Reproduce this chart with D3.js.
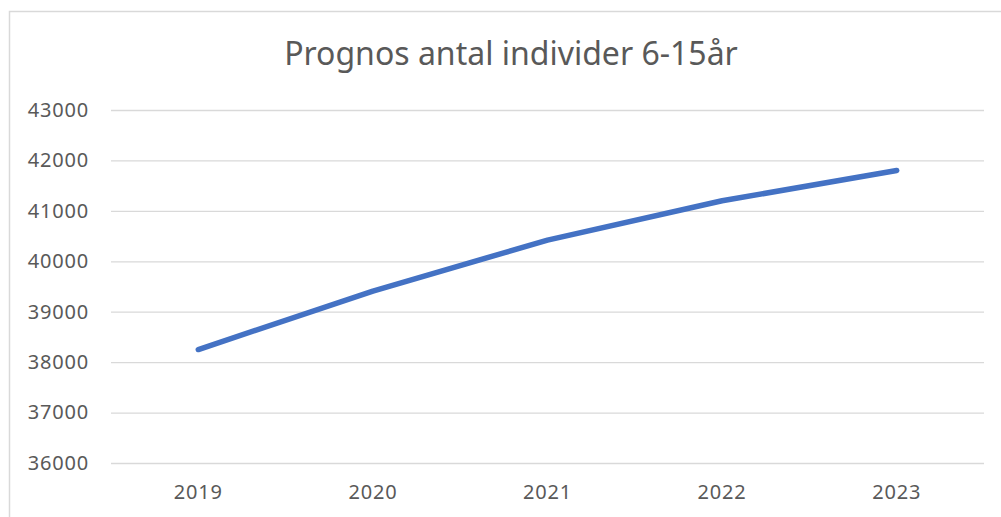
<!DOCTYPE html>
<html>
<head>
<meta charset="utf-8">
<script src="https://cdn.jsdelivr.net/npm/d3@7"></script>
<style>
  body { margin: 0; background: #fff; }
  text { font-family: "Noto Sans", "Open Sans", sans-serif; fill: #595959; }
</style>
</head>
<body>
<div id="chart"></div>
<script>
// Data
const years = ["2019", "2020", "2021", "2022", "2023"];
const individer = [38250, 39410, 40420, 41200, 41800];
const yTicks = [36000, 37000, 38000, 39000, 40000, 41000, 42000, 43000];
const title = "Prognos antal individer 6-15år";

function draw() {
  const W = 1001, H = 517;
  const margin = { top: 110, right: 17, bottom: 54, left: 111 };
  const width = W - margin.left - margin.right;
  const height = H - margin.top - margin.bottom;

  const svg = d3.select("#chart")
    .append("svg")
    .attr("width", W)
    .attr("height", H);

  // chart frame
  svg.append("rect")
    .attr("x", 9.5).attr("y", 11.5)
    .attr("width", 1000).attr("height", 520)
    .attr("fill", "none")
    .attr("stroke", "#d9d9d9")
    .attr("stroke-width", 1.5);

  svg.append("text")
    .attr("x", 511).attr("y", 65)
    .attr("text-anchor", "middle")
    .style("font-size", "32px")
    .text(title);

  const g = svg.append("g")
    .attr("transform", `translate(${margin.left}, ${margin.top})`);

  const xScale = d3.scaleBand()
    .domain(years)
    .range([0, width]);

  const yScale = d3.scaleLinear()
    .domain([36000, 43000])
    .range([height, 0]);

  // grid lines + y labels
  g.append("g")
    .call(d3.axisLeft(yScale).tickValues(yTicks).tickSize(-width).tickPadding(22).tickFormat(d3.format("d")))
    .call(a => a.select(".domain").remove())
    .call(a => a.selectAll(".tick line").attr("stroke", "#d9d9d9").attr("stroke-width", 1.3))
    .call(a => a.selectAll(".tick text").style("font-size", "20px").style("letter-spacing", "0.8px").attr("fill", "#595959"));

  // x labels
  g.append("g")
    .attr("transform", `translate(0, ${height})`)
    .call(d3.axisBottom(xScale).tickSize(0).tickPadding(22))
    .call(a => a.select(".domain").remove())
    .call(a => a.selectAll(".tick text").style("font-size", "20px").style("letter-spacing", "0.8px").attr("fill", "#595959"));

  const line = d3.line()
    .x((d, i) => xScale(years[i]) + xScale.bandwidth() / 2)
    .y(d => yScale(d));

  g.append("path")
    .datum(individer)
    .attr("fill", "none")
    .attr("stroke", "#4472c4")
    .attr("stroke-width", 5.5)
    .attr("stroke-linecap", "round")
    .attr("stroke-linejoin", "round")
    .attr("d", line);
}

draw();
</script>
</body>
</html>
